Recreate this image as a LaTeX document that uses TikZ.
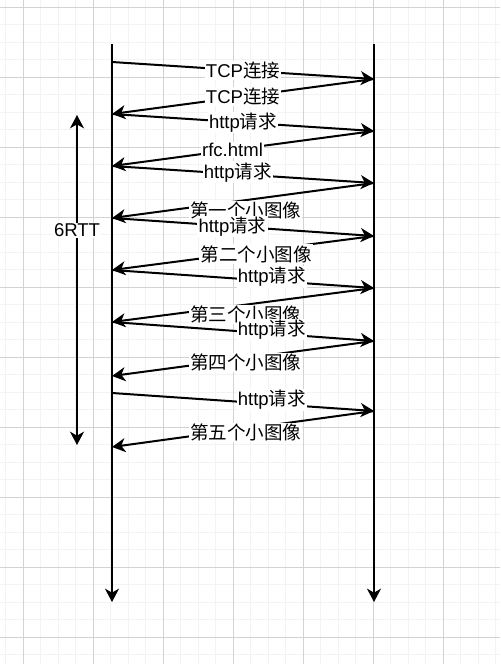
\documentclass[tikz,border=0pt]{standalone}
\usepackage{fontspec}
\setmainfont{Liberation Sans}
\newfontfamily\cjk{Noto Sans CJK SC}
\usetikzlibrary{arrows.meta}
\newcommand{\zh}[1]{{\cjk #1}}
\definecolor{gridminor}{RGB}{243,243,243}
\definecolor{gridmajor}{RGB}{211,211,211}

\begin{document}
\begin{tikzpicture}[
  x=0.75pt, y=-0.75pt,
  minor/.style={gridminor, line width=0.75pt},
  major/.style={gridmajor, line width=0.75pt},
  life/.style={-{Stealth[length=10pt, width=10.5pt, inset=3pt]}, line width=1.5pt},
  msg/.style={-{Stealth[length=10pt, width=10.5pt, inset=3pt]}, line width=1.5pt},
  rtt/.style={{Stealth[length=10pt, width=10.5pt, inset=3pt]}-{Stealth[length=10pt, width=10.5pt, inset=3pt]}, line width=1.5pt},
  lbl/.style={fill=white, inner sep=0.8pt, font=\fontsize{13.9}{15}\selectfont},
]
\useasboundingbox (0,0) rectangle (500,664);
\fill[white] (0,0) rectangle (500,664);

% GRID
\foreach \k in {0,...,28} \draw[minor] ({5.5+17.5*\k},0) -- ++(0,664);
\foreach \k in {0,...,37} \draw[minor] (0,{7+17.5*\k}) -- ++(500,0);
\foreach \k in {0,...,6} \draw[major] ({23+70*\k},0) -- ++(0,664);
\foreach \k in {0,...,9} \draw[major] (0,{7+70*\k}) -- ++(500,0);

% LIFELINES
\coordinate (ltop) at (112,44);
\coordinate (lbot) at (112,602);
\coordinate (rtop) at (374,44);
\coordinate (rbot) at (374,602);
\draw[life] (ltop) -- (lbot);
\draw[life] (rtop) -- (rbot);

% message points
\coordinate (l1) at (112,62);
\coordinate (l2) at (112,114);
\coordinate (l3) at (112,166);
\coordinate (l4) at (112,218);
\coordinate (l5) at (112,270);
\coordinate (l6) at (112,322);
\coordinate (l7) at (112,376);
\coordinate (l8) at (112,393);
\coordinate (l9) at (112,447);
\coordinate (r1) at (374,79);
\coordinate (r2) at (374,131);
\coordinate (r3) at (374,183);
\coordinate (r4) at (374,236);
\coordinate (r5) at (374,288);
\coordinate (r6) at (374,341);
\coordinate (r7) at (374,411);

% MESSAGES
\draw[msg] (l1) -- node[lbl, pos=0.5] (m1) {TCP\zh{连接}} (r1);
\draw[msg] (r1) -- node[lbl, pos=0.5] (m2) {TCP\zh{连接}} (l2);
\draw[msg] (l2) -- node[lbl, pos=0.5] (m3) {http\zh{请求}} (r2);
\draw[msg] (r2) -- node[lbl, pos=0.54] (m4) {rfc.html} (l3);
\draw[msg] (l3) -- node[lbl, pos=0.48, yshift=1.5pt] (m5) {http\zh{请求}} (r3);
\draw[msg] (r3) -- node[lbl, pos=0.49, yshift=-7.5pt] (m6) {\zh{第一个小图像}} (l4);
\draw[msg] (l4) -- node[lbl, pos=0.46] (m7) {http\zh{请求}} (r4);
\draw[msg] (r4) -- node[lbl, pos=0.45, yshift=-2pt] (m8) {\zh{第二个小图像}} (l5);
\draw[msg] (l5) -- node[lbl, pos=0.61, yshift=3pt] (m9) {http\zh{请求}} (r5);
\draw[msg] (r5) -- node[lbl, pos=0.49, yshift=-7.5pt] (m10) {\zh{第三个小图像}} (l6);
\draw[msg] (l6) -- node[lbl, pos=0.61, yshift=3pt] (m11) {http\zh{请求}} (r6);
\draw[msg] (r6) -- node[lbl, pos=0.49, yshift=-3pt] (m12) {\zh{第四个小图像}} (l7);
\draw[msg] (l8) -- node[lbl, pos=0.61, yshift=3pt] (m13) {http\zh{请求}} (r7);
\draw[msg] (r7) -- node[lbl, pos=0.49, yshift=-3pt] (m14) {\zh{第五个小图像}} (l9);

% 6RTT
\coordinate (rtttop) at (77,115);
\coordinate (rttbot) at (77,445);
\draw[rtt] (rtttop) -- node[lbl, pos=0.35] (rttlbl) {6RTT} (rttbot);

\end{tikzpicture}
\end{document}
